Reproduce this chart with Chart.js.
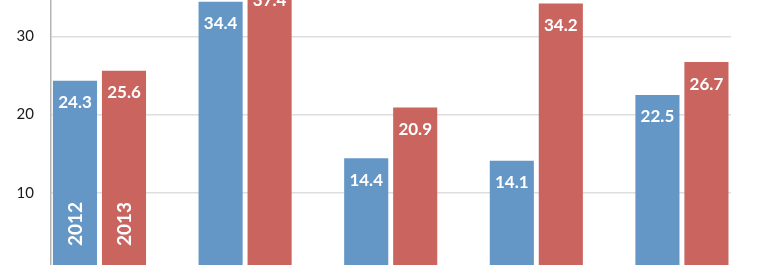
<!DOCTYPE html>
<html>
<head>
<meta charset="utf-8">
<script src="https://cdn.jsdelivr.net/npm/chart.js@4/dist/chart.umd.min.js"></script>
<style>
  html, body { margin: 0; padding: 0; background: #fff; overflow: hidden; }
  body { width: 768px; height: 265px; position: relative; }
  /* the reference is a crop: value axis runs 0..40, only ~1..34 shows */
  #chart { position: absolute; left: 0; top: -68px; }
</style>
</head>
<body>
<canvas id="chart" width="768" height="365"></canvas>
<script>
'use strict';

/* ── Data ───────────────────────────────────────────────────────── */
const groups = [0, 1, 2, 3, 4];            // category labels are cropped out of the picture
const seriesNames = ['2012', '2013'];
const values2012 = [24.3, 34.4, 14.4, 14.1, 22.5];
const values2013 = [25.6, 37.4, 20.9, 34.2, 26.7];
const yTicks = [10, 20, 30];

const BLUE = '#6497c6';
const RED = '#c9645f';
const FONT = 'Lato, "Liberation Sans", sans-serif';

const toPoints = arr => arr.map((v, i) => ({ x: groups[i], y: v }));

/* ── Labels drawn inside the bars ───────────────────────────────── */
const barLabels = {
    id: 'barLabels',
    afterDatasetsDraw(chart) {
        const ctx = chart.ctx;
        ctx.save();
        ctx.fillStyle = '#fff';
        ctx.textAlign = 'center';
        ctx.textBaseline = 'middle';

        chart.data.datasets.forEach((ds, di) => {
            const meta = chart.getDatasetMeta(di);
            meta.data.forEach((bar, i) => {
                ctx.font = 'bold 17px ' + FONT;
                ctx.fillText(ds.data[i].y.toFixed(1), bar.x, bar.y + 22);
            });

            // series name, rotated, in the first group only
            const first = meta.data[0];
            ctx.save();
            ctx.translate(first.x + 1, first.base - 47);
            ctx.rotate(-Math.PI / 2);
            ctx.font = 'bold 19px ' + FONT;
            ctx.fillText(ds.label, 0, 0);
            ctx.restore();
        });
        ctx.restore();
    }
};

new Chart(document.getElementById('chart'), {
    type: 'bar',
    data: {
        datasets: [
            { label: seriesNames[0], data: toPoints(values2012), backgroundColor: BLUE },
            { label: seriesNames[1], data: toPoints(values2013), backgroundColor: RED }
        ]
    },
    options: {
        responsive: false,
        animation: false,
        layout: { autoPadding: false, padding: { left: 0, right: 37, top: 0, bottom: 0 } },
        categoryPercentage: 0.673,
        barPercentage: 0.9,
        plugins: { legend: { display: false }, tooltip: { enabled: false } },
        scales: {
            x: {
                type: 'linear',
                display: false,
                offset: false,
                min: -0.333,
                max: 4.337,
                ticks: { stepSize: 1, includeBounds: false }
            },
            y: {
                min: 0,
                max: 40,
                afterFit: s => { s.width = 51; },
                afterBuildTicks: s => { s.ticks = yTicks.map(v => ({ value: v })); },
                border: { color: '#b4b4b4', width: 1.5 },
                grid: { color: '#dedede', lineWidth: 1.5, drawTicks: false },
                ticks: { color: '#1a1a1a', padding: 17, font: { family: FONT, size: 15 } }
            }
        }
    },
    plugins: [barLabels]
});
</script>
</body>
</html>
